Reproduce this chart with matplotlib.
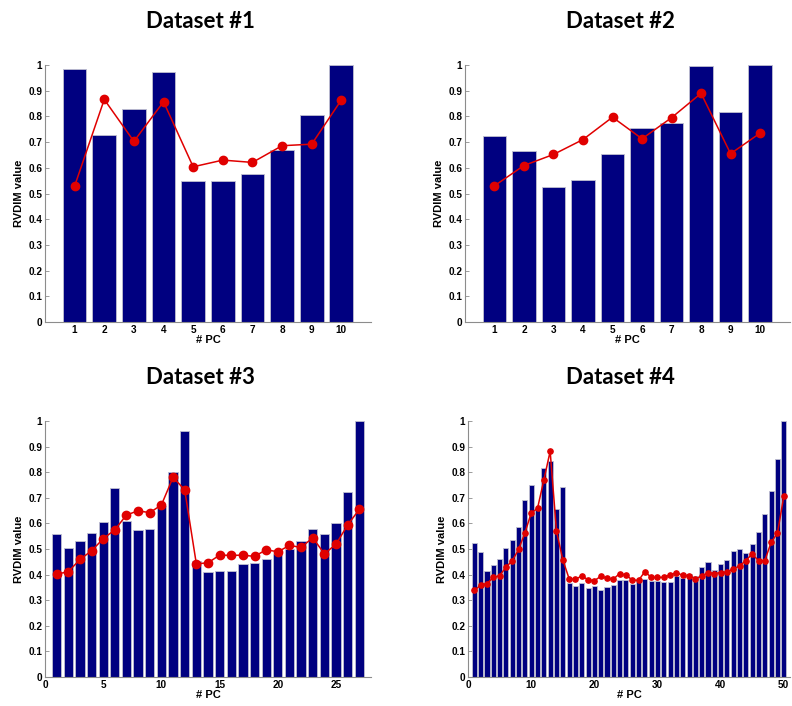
import matplotlib
matplotlib.use('Agg')
import matplotlib.pyplot as plt
import numpy as np

# ---- data ----
bars1 = [0.983, 0.726, 0.829, 0.971, 0.547, 0.549, 0.577, 0.668, 0.804, 1.0]
line1 = [0.529, 0.866, 0.703, 0.857, 0.604, 0.630, 0.621, 0.686, 0.692, 0.864]

bars2 = [0.722, 0.666, 0.525, 0.552, 0.655, 0.753, 0.773, 0.995, 0.817, 1.0]
line2 = [0.530, 0.609, 0.652, 0.710, 0.797, 0.713, 0.795, 0.890, 0.655, 0.735]

bars3 = [0.560, 0.505, 0.532, 0.562, 0.606, 0.737, 0.610, 0.573, 0.580, 0.666,
         0.802, 0.960, 0.455, 0.411, 0.414, 0.415, 0.441, 0.447, 0.460, 0.480,
         0.498, 0.531, 0.577, 0.559, 0.602, 0.723, 1.0]
line3 = [0.402, 0.411, 0.459, 0.493, 0.540, 0.575, 0.633, 0.649, 0.642, 0.672,
         0.780, 0.731, 0.442, 0.446, 0.476, 0.475, 0.476, 0.471, 0.497, 0.489,
         0.514, 0.506, 0.544, 0.481, 0.519, 0.594, 0.655]

bars4 = [0.525, 0.489, 0.414, 0.437, 0.460, 0.502, 0.537, 0.585, 0.692, 0.748,
         0.653, 0.818, 0.844, 0.655, 0.741, 0.368, 0.356, 0.367, 0.346, 0.355,
         0.339, 0.351, 0.359, 0.377, 0.379, 0.364, 0.375, 0.381, 0.376, 0.376,
         0.370, 0.372, 0.396, 0.385, 0.403, 0.396, 0.428, 0.450, 0.416, 0.443,
         0.457, 0.492, 0.500, 0.486, 0.518, 0.568, 0.638, 0.728, 0.852, 1.0]
line4 = [0.338, 0.359, 0.365, 0.389, 0.396, 0.429, 0.454, 0.498, 0.563, 0.640,
         0.659, 0.769, 0.882, 0.570, 0.458, 0.384, 0.381, 0.395, 0.380, 0.376,
         0.393, 0.386, 0.382, 0.404, 0.398, 0.379, 0.377, 0.412, 0.389, 0.389,
         0.389, 0.399, 0.407, 0.397, 0.396, 0.383, 0.394, 0.408, 0.404, 0.408,
         0.410, 0.422, 0.434, 0.455, 0.481, 0.454, 0.455, 0.526, 0.562, 0.706]

titles = ['Dataset #1', 'Dataset #2', 'Dataset #3', 'Dataset #4']
ytick_vals = [0, 0.1, 0.2, 0.3, 0.4, 0.5, 0.6, 0.7, 0.8, 0.9, 1]
ytick_labels = ['0', '0.1', '0.2', '0.3', '0.4', '0.5', '0.6', '0.7', '0.8', '0.9', '1']

navy = '#000080'
red = '#e00000'
tickfont = dict(family='Liberation Sans', weight='bold', size=7.2)
labelfont = dict(family='Liberation Sans', weight='bold', size=8)

fig = plt.figure(figsize=(7.92, 7.06), dpi=100)

# axes rectangles in figure fractions (left, bottom, width, height)
rects = [(0.0568, 0.5439, 0.4116, 0.364),
         (0.587, 0.5439, 0.410, 0.364),
         (0.0568, 0.0411, 0.4116, 0.3626),
         (0.591, 0.0411, 0.4066, 0.3626)]
title_pos = [(200 / 792, 1 - 21 / 706), (620 / 792, 1 - 21 / 706),
             (200 / 792, 1 - 377 / 706), (620 / 792, 1 - 377 / 706)]

data = [(bars1, line1), (bars2, line2), (bars3, line3), (bars4, line4)]

for i, (b, l) in enumerate(data):
    ax = fig.add_axes(rects[i])
    n = len(b)
    x = np.arange(1, n + 1)
    ax.bar(x, b, width=0.8, color=navy, edgecolor='#c0c0d0', linewidth=0.6, zorder=2)
    ms = 6 if i < 3 else 3.8
    ax.plot(x, l, '-o', color=red, markersize=ms, linewidth=1.1, zorder=3)
    ax.set_xlim(0, n + 1)
    ax.set_ylim(0, 1)
    ax.set_yticks(ytick_vals)
    ax.set_yticklabels(ytick_labels, fontdict=tickfont)
    if i < 2:
        ax.set_xticks(x)
        ax.set_xticklabels([str(v) for v in x], fontdict=tickfont)
    elif i == 2:
        xt = [0, 5, 10, 15, 20, 25]
        ax.set_xticks(xt)
        ax.set_xticklabels([str(v) for v in xt], fontdict=tickfont)
    else:
        xt = [0, 10, 20, 30, 40, 50]
        ax.set_xticks(xt)
        ax.set_xticklabels([str(v) for v in xt], fontdict=tickfont)
    for s in ['top', 'right']:
        ax.spines[s].set_visible(False)
    for s in ['left', 'bottom']:
        ax.spines[s].set_color('#8c8c8c')
        ax.spines[s].set_linewidth(0.8)
    ax.tick_params(direction='in', length=3, width=0.6, color='#8c8c8c', pad=2)
    ax.set_xlabel('# PC', fontdict=labelfont, labelpad=0)
    ax.set_ylabel('RVDIM value', fontdict=labelfont, labelpad=3)
    fig.text(title_pos[i][0], title_pos[i][1], titles[i], ha='center', va='center',
             family='Lato', weight='bold', fontsize=16)

fig.savefig('out.png', dpi=100)
